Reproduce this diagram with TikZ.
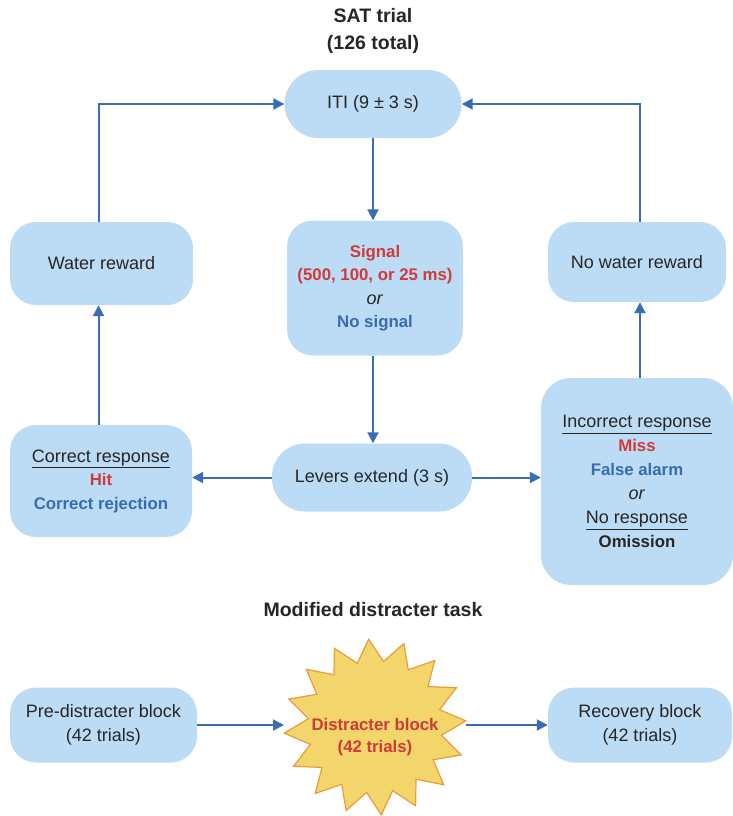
\documentclass[tikz,border=0pt]{standalone}
\usepackage{fontspec}
\setmainfont{Liberation Sans}
\usetikzlibrary{arrows.meta,calc}
\definecolor{boxfill}{HTML}{BBDCF4}
\definecolor{arrowc}{HTML}{3B6DB6}
\definecolor{redt}{HTML}{D03A3A}
\definecolor{bluet}{HTML}{3A6BB2}
\definecolor{starfill}{HTML}{F2D66B}
\definecolor{starline}{HTML}{EE9A3C}
\definecolor{textc}{HTML}{262626}
\newcommand{\bt}[1]{{\fontsize{16.8}{23.5}\selectfont\bfseries #1}}
\tikzset{
  box/.style={rectangle, rounded corners=26pt, fill=boxfill, align=center, text=textc,
    font=\fontsize{18}{23.5}\selectfont, inner sep=0pt},
  conn/.style={draw=arrowc, line width=2pt, -{Triangle[length=11pt,width=11pt]}},
  ttl/.style={font=\fontsize{19.5}{27}\selectfont\bfseries, text=textc, align=center},
  starshape/.style={fill=starfill, draw=starline, line width=1.2pt, line join=miter}
}
\begin{document}
\begin{tikzpicture}[x=1pt,y=-1pt]
\useasboundingbox (0,0) rectangle (732,816);
\node[ttl] (title) at (373,31) {SAT trial\\(126 total)};
\node[box, rounded corners=34pt, minimum width=177pt, minimum height=68pt] (iti) at (373,104) {ITI (9 ± 3 s)};
\node[box, minimum width=176pt, minimum height=135pt] (sig) at (375,288)
  {\textcolor{redt}{\bt{Signal}}\\\textcolor{redt}{\bt{(500, 100, or 25 ms)}}\\\textit{or}\\\textcolor{bluet}{\bt{No signal}}};
\node[box, minimum width=183pt, minimum height=83pt] (water) at (101.5,263.5) {Water reward};
\node[box, minimum width=178pt, minimum height=80pt] (nowater) at (637,262) {No water reward};
\node[box, rounded corners=33pt, minimum width=200pt, minimum height=68pt] (lev) at (372,477.5) {Levers extend (3 s)};
\node[box, minimum width=182pt, minimum height=112pt] (corr) at (101,481)
  {\underline{Correct response}\\\textcolor{redt}{\bt{Hit}}\\\textcolor{bluet}{\bt{Correct rejection}}};
\node[box, rounded corners=30pt, minimum width=192pt, minimum height=207pt, font=\fontsize{18}{24}\selectfont] (inc) at (637,481.5)
  {\underline{Incorrect response}\\\textcolor{redt}{\bt{Miss}}\\\textcolor{bluet}{\bt{False alarm}}\\\textit{or}\\\underline{No response}\\\bt{Omission}};
\node[ttl] (title2) at (373,610) {Modified distracter task};
\node[box, minimum width=187pt, minimum height=75pt, font=\fontsize{18}{24}\selectfont] (pre) at (103.5,725) {Pre-distracter block\\(42 trials)};
% starburst
\coordinate (sc) at (375,727);
\begin{scope}[shift={(sc)}]
\draw[starshape] (-4:91 and 88)
  \foreach \k in {0,...,15} {
    -- ({\k*22.5+11.25-4}:67 and 66) -- ({(\k+1)*22.5-4}:91 and 88)
  } -- cycle;
\end{scope}
\coordinate (disW) at (284,727);
\coordinate (disE) at (466,725);
\node[align=center, text=redt, font=\fontsize{16.8}{22}\selectfont\bfseries, inner sep=0pt] (dis) at (375,737) {Distracter block\\(42 trials)};
\node[box, minimum width=184pt, minimum height=75pt, font=\fontsize{18}{24}\selectfont] (rec) at (640,725) {Recovery block\\(42 trials)};
\draw[conn] (iti.south) -- (iti.south |- sig.north);
\draw[conn] (sig.south) ++(-2,0) coordinate (c0) -- (c0 |- lev.north);
\draw[conn] (lev.west) -- (lev.west -| corr.east);
\draw[conn] (lev.east) -- (lev.east -| inc.west);
\draw[conn] (corr.north -| water.south) ++(-3,0) coordinate (c1) -- (c1 |- water.south);
\draw[conn] (inc.north) ++(3,0) coordinate (c2) -- (c2 |- nowater.south);
\draw[conn] (water.north) ++(-3,0) coordinate (c3) -- (c3 |- iti.west) -- (iti.west);
\draw[conn] (nowater.north) ++(3,0) coordinate (c4) -- (c4 |- iti.east) -- (iti.east);
\draw[conn] (pre.east) -- (pre.east -| disW);
\draw[conn] (disE) -- (disE -| rec.west);
\end{tikzpicture}
\end{document}
